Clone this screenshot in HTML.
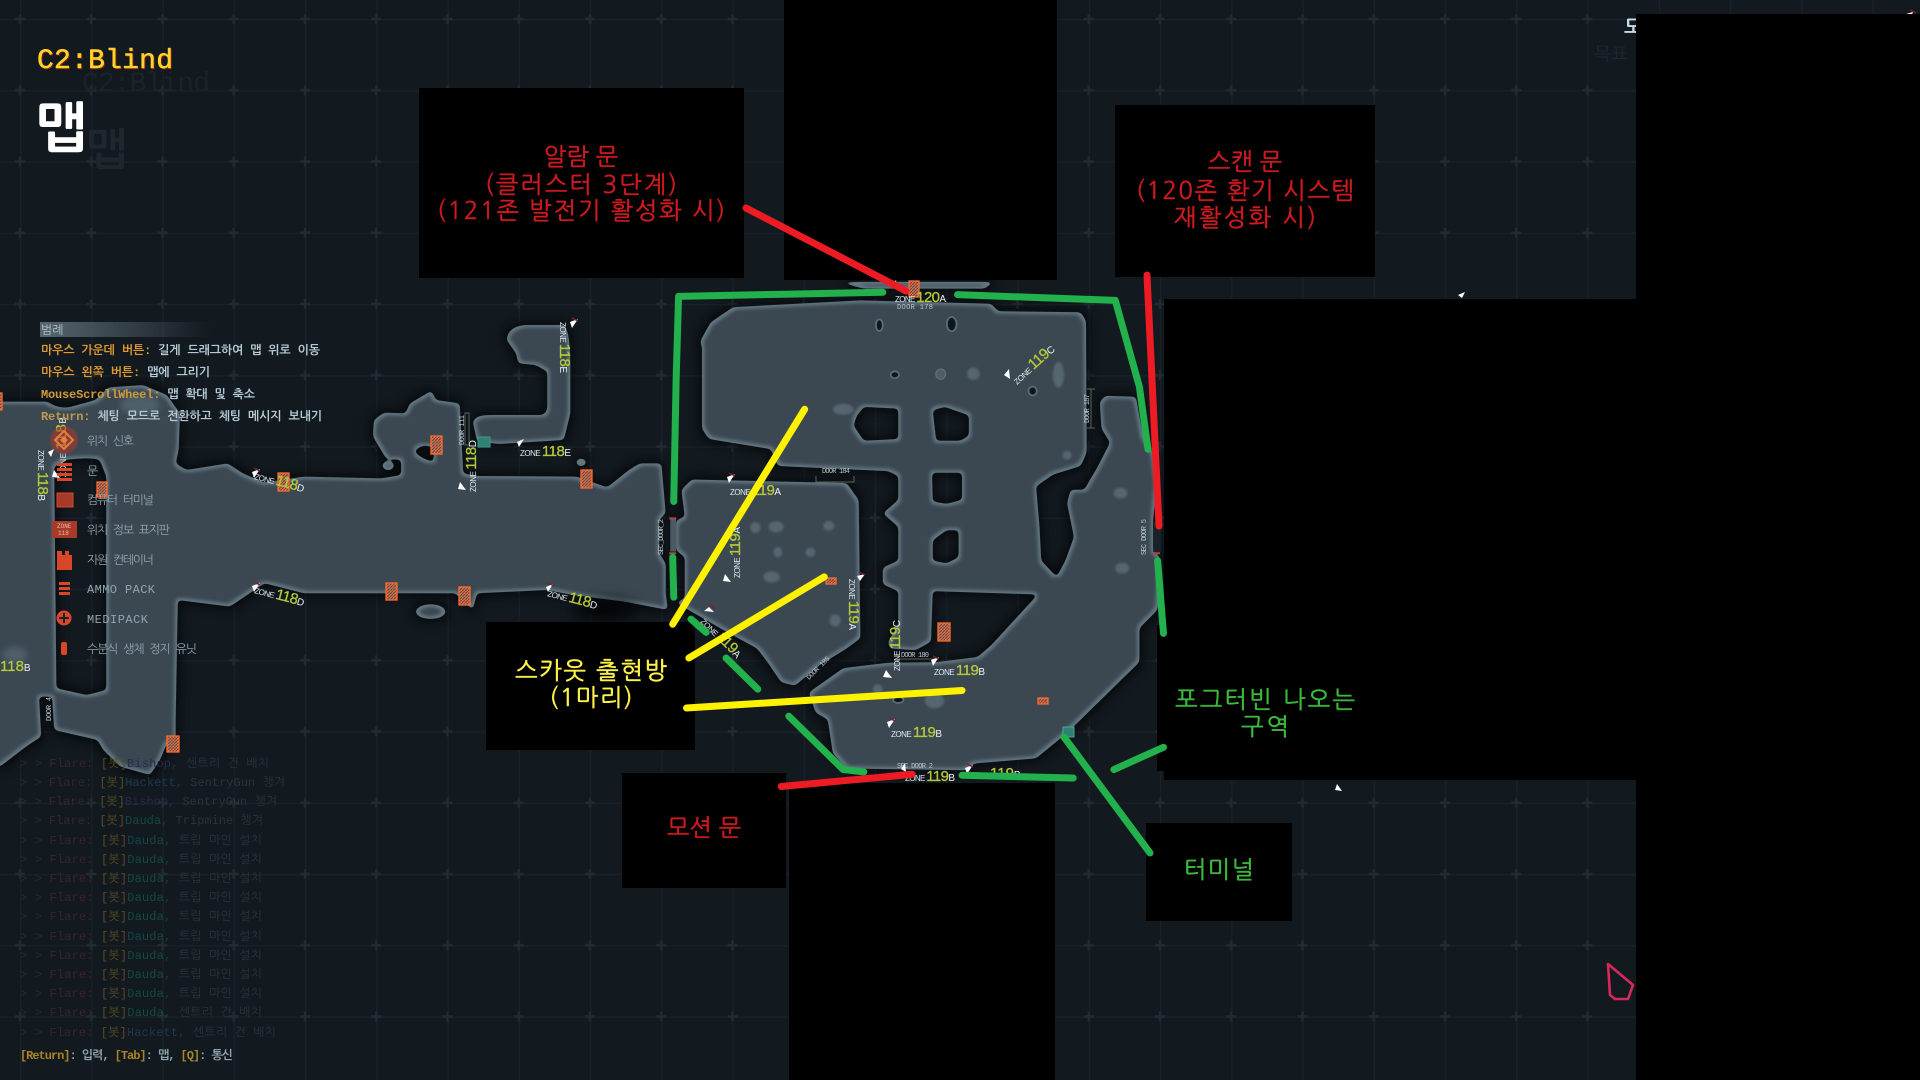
<!DOCTYPE html>
<html lang="ko"><head><meta charset="utf-8"><title>C2:Blind 맵</title>
<style>
html,body{margin:0;padding:0;background:#12191f;width:1920px;height:1080px;overflow:hidden}
svg{display:block;position:absolute;left:0;top:0}
text{white-space:pre}
.m{font-family:"Liberation Mono","Noto Sans CJK KR",monospace}
.k{font-family:"NanumGothic","Liberation Sans","Noto Sans CJK KR",sans-serif}
.leg{font-family:"Liberation Mono","NanumGothic",monospace;font-size:12px;font-weight:700}
.icn{font-family:"Liberation Mono","NanumGothic",monospace;font-size:12px;fill:#8fa5b1}
.chat{font-family:"Liberation Mono","NanumGothic",monospace;font-size:12px}
.z{font-family:"Liberation Sans",sans-serif;font-size:8px;fill:#dfe8ec}
.n{font-size:15px;fill:#b3c93a;stroke:#b3c93a;stroke-width:.3}
.l{font-size:10px;fill:#eef3f5}
.d{font-family:"Liberation Mono",monospace;font-size:7px;fill:#b9c6cd}
.bx{font-family:"NanumGothic","Noto Sans CJK KR",sans-serif;font-size:24px;text-anchor:middle;font-weight:400;stroke-width:.45}
.ln{fill:none;stroke-linecap:round;stroke-linejoin:round;stroke-width:7;vector-effect:non-scaling-stroke}
</style></head><body>
<svg width="1920" height="1080" viewBox="0 0 1920 1080" xmlns="http://www.w3.org/2000/svg">
<defs>
<pattern id="grid" x="20" y="19" width="71.25" height="71.25" patternUnits="userSpaceOnUse">
<path d="M0 0V71.25M0 0H71.25" stroke="#1a2229" stroke-width="2.4" fill="none"/>
<path d="M-5 0H5M0 -5V5M66.25 0H76M71.25 -5V5M-5 71.25H5M0 66.25V76M66.25 71.25H76M71.25 66.25V76" stroke="#222b32" stroke-width="2.4" fill="none"/>
</pattern>
<pattern id="hat" width="3" height="3" patternUnits="userSpaceOnUse"><rect width="3" height="3" fill="#d9734f"/><path d="M0 3L3 0" stroke="#6b4a42" stroke-width="1.2"/></pattern>
<linearGradient id="hd" x1="0" x2="1"><stop offset="0" stop-color="#56666f"/><stop offset="1" stop-color="#56666f" stop-opacity="0"/></linearGradient>
<filter id="goo" filterUnits="userSpaceOnUse" x="-30" y="0" width="1980" height="1080" color-interpolation-filters="sRGB">
<feGaussianBlur in="SourceAlpha" stdDeviation="2" result="b"/>
<feComponentTransfer in="b" result="shape"><feFuncA type="linear" slope="10" intercept="-4.5"/></feComponentTransfer>
<feMorphology in="shape" operator="dilate" radius="3"/>
<feGaussianBlur stdDeviation="5" result="sh"/>
<feFlood flood-color="#000" flood-opacity=".6"/>
<feComposite in2="sh" operator="in" result="shadow"/>
<feFlood flood-color="#627681"/>
<feComposite in2="shape" operator="in" result="rim"/>
<feMorphology in="shape" operator="erode" radius="2.5"/>
<feGaussianBlur stdDeviation="1.6" result="inner"/>
<feFlood flood-color="#3b4852"/>
<feComposite in2="inner" operator="in" result="fill"/>
<feMerge><feMergeNode in="shadow"/><feMergeNode in="rim"/><feMergeNode in="fill"/></feMerge>
</filter>
<filter id="b3" x="-50%" y="-50%" width="200%" height="200%"><feGaussianBlur stdDeviation="3"/></filter>
<filter id="b1" x="-50%" y="-50%" width="200%" height="200%"><feGaussianBlur stdDeviation=".8"/></filter>
<filter id="b9" x="-50%" y="-100%" width="200%" height="300%"><feGaussianBlur stdDeviation="7"/></filter>
</defs>

<rect width="1920" height="1080" fill="#12191f"/>
<rect width="1920" height="1080" fill="url(#grid)"/>

<!-- ghost heading -->
<text x="82" y="91" class="m" font-size="28" fill="#1b2329" textLength="128">C2:Blind</text>
<text x="86" y="165" class="k" font-size="44" font-weight="700" fill="#1e272e">맵</text>
<text x="1594" y="60" class="k" font-size="18" fill="#20282f">목표</text>

<!-- map -->
<g filter="url(#goo)">
<g transform="translate(0 300) scale(.4337 .3333)" fill="#fff">
<path fill-rule="evenodd" d="M-20,305 L110,305 Q135,330 165,320 L220,300 L250,262 L330,255 L385,285 L415,340 L412,450 L405,490 L430,510 L525,490 L560,520 L610,548 L700,530 L880,535 L925,525 L925,480 L890,475 L860,410 L862,360 L885,338 L935,340 L945,310 L995,272 L1005,300 L1060,310 L1068,520 L1100,528 L1330,530 L1400,562 L1450,510 L1475,490 L1525,490 L1535,640 L1520,660 L1520,760 L1535,790 L1535,880 L1540,930 L1440,905 L1320,885 L1260,870 L1100,880 L1090,930 L1050,880 L700,880 L610,850 L530,920 L410,900 L405,1260 L405,1320 L385,1330 L369,1380 L346,1425 L277,1400 L238,1350 L225,1320 L125,1290 L120,1190 L90,1190 L95,1310 L60,1340 L0,1400 L-20,1400 Z
M125,500 L150,480 Q210,470 230,480 L245,530 L245,1170 L200,1185 L130,1165 Z
M955,455 Q975,425 1000,445 L1000,485 Q975,480 955,455 Z
M1090,365 Q1095,345 1130,345 L1250,345 Q1262,340 1262,320 L1262,215 L1235,195 L1195,190 L1190,160 L1168,120 Q1170,80 1210,75 L1300,75 Q1315,90 1315,200 L1315,340 L1300,420 L1150,432 L1100,425 Z"/>
<ellipse cx="895" cy="497" rx="14" ry="14"/><ellipse cx="1340" cy="487" rx="12" ry="12"/><ellipse cx="993" cy="935" rx="35" ry="22"/>
</g>
<g transform="translate(640 270) scale(.3444 .338)" fill="#fff">
<path fill-rule="evenodd" d="M175,210 L205,155 L270,110 L640,90 L1020,100 L1040,122 L1280,125 L1295,150 L1297,540 L1280,580 L1200,605 L1150,640 L1160,760 L1165,860 L1210,908 L1235,860 L1260,790 L1240,690 L1250,650 L1290,650 L1330,580 L1365,510 L1340,470 L1335,390 L1350,372 L1440,375 L1460,490 L1490,540 L1500,630 L1490,740 L1490,830 L1510,850 L1503,1005 L1450,1060 L1450,1160 L1240,1370 L1150,1445 L970,1460 L950,1480 L600,1475 L560,1430 L545,1330 L510,1310 L490,1250 L590,1178 L720,1162 L860,1160 L980,1145 L1020,1110 L1155,960 L850,950 L845,1100 L800,1125 L725,1120 L720,1100 L750,1050 L750,950 L705,930 L705,880 L750,860 L750,760 L705,720 L750,680 L750,610 L720,595 L400,580 L380,530 L200,500 L180,470 L180,230 Z
M630,430 L650,405 L750,410 L750,500 L650,505 L620,460 Z
M850,415 L885,405 L955,430 L955,490 L930,505 L860,505 Z
M848,600 L935,600 L935,680 L890,692 L850,685 Z
M850,800 L890,770 L925,770 L925,850 L890,868 L850,860 Z
M120,650 L150,620 L600,630 L635,680 L640,1090 L600,1120 L520,1170 L450,1230 L410,1220 L370,1160 L340,1120 L250,1070 L140,1005 L105,985 L130,970 L130,850 L105,830 L105,740 L130,730 Z
M570,35 L1030,35 L1000,55 L650,55 Z"/>
</g>
</g>
<!-- small pits -->
<g transform="translate(640 270) scale(.3444 .338)">
<g fill="#11171c" stroke="#5b6e79" stroke-width="5" filter="url(#b1)">
<ellipse cx="695" cy="163" rx="10" ry="17"/><ellipse cx="905" cy="160" rx="14" ry="21"/><ellipse cx="740" cy="310" rx="12" ry="10"/><ellipse cx="1140" cy="358" rx="12" ry="13"/><ellipse cx="750" cy="1272" rx="15" ry="9"/>
</g>
<ellipse cx="873" cy="308" rx="14" ry="15" fill="#4d5c66" stroke="#5b6e79" stroke-width="4"/>
<rect x="88" y="738" width="17" height="95" fill="#4c5a63"/>
<path d="M85 735H105M85 838H105" stroke="#b0434e" stroke-width="6" fill="none"/>
<rect x="1490" y="745" width="22" height="90" fill="#1a2228"/>
<path d="M1490 838H1510" stroke="#b0434e" stroke-width="6" fill="none"/>
<g fill="#556670" filter="url(#b3)">
<ellipse cx="590" cy="412" rx="30" ry="16"/><ellipse cx="968" cy="307" rx="18" ry="18"/><ellipse cx="1215" cy="310" rx="16" ry="38"/>
<ellipse cx="1240" cy="548" rx="13" ry="13"/><ellipse cx="1395" cy="660" rx="20" ry="16"/><ellipse cx="1400" cy="882" rx="20" ry="16"/>
<ellipse cx="335" cy="762" rx="15" ry="16"/><ellipse cx="395" cy="760" rx="22" ry="16"/><ellipse cx="548" cy="757" rx="16" ry="14"/>
<ellipse cx="400" cy="835" rx="12" ry="16"/><ellipse cx="495" cy="835" rx="14" ry="14"/><ellipse cx="382" cy="908" rx="24" ry="16"/>
<ellipse cx="567" cy="1037" rx="16" ry="18"/><ellipse cx="690" cy="1240" rx="14" ry="14"/><ellipse cx="855" cy="1275" rx="28" ry="22"/>
</g>
</g>
<ellipse cx="15" cy="655" rx="12" ry="8" fill="#4e5e68" filter="url(#b3)"/>
<ellipse cx="140" cy="405" rx="20" ry="10" fill="#4e5e68" filter="url(#b3)"/>
<ellipse cx="605" cy="610" rx="32" ry="10" fill="#000" opacity=".8" filter="url(#b9)"/>

<!-- orange doors -->
<g stroke="#ff6a2a" stroke-width="1.3" fill="url(#hat)">
<rect x="431" y="436" width="11" height="18"/>
<rect x="278" y="473" width="11" height="18"/>
<rect x="97" y="482" width="10" height="15"/>
<rect x="581" y="470" width="11" height="18"/>
<rect x="386" y="583" width="11" height="17"/>
<rect x="459" y="587" width="11" height="18"/>
<rect x="-3" y="393" width="5" height="17"/>
<rect x="167" y="736" width="12" height="16"/>
<rect x="938" y="623" width="12" height="18"/>
<rect x="909" y="281" width="10" height="16"/>
<rect x="826" y="578" width="10" height="6"/>
<rect x="1038" y="698" width="10" height="6"/>
</g>

<!-- terminals -->
<rect x="478" y="437" width="12" height="10" fill="#2f8075" stroke="#3c9a8c"/>
<rect x="1063" y="727" width="11" height="10" fill="#2f8075" stroke="#4da497"/>

<!-- door labels -->
<g class="d">
<text transform="translate(464 445) rotate(-90)" textLength="30">DOOR_111</text>
<text x="822" y="473" textLength="28" fill="#b9c6cd">DOOR 184</text>
<text x="901" y="657" textLength="28">DOOR 180</text>
<text transform="translate(1089 423) rotate(-90)" textLength="29">DOOR 187</text>
<text transform="translate(809 680) rotate(-45)" textLength="30">DOOR 185</text>
<text transform="translate(663 555) rotate(-90)" textLength="36">SEC_DOOR_2</text>
<text transform="translate(1146 555) rotate(-90)" textLength="36">SEC DOOR 5</text>
<text x="897" y="768" textLength="36">SEC DOOR 2</text>
<text x="897" y="309" textLength="36">DOOR 178</text>
<text transform="translate(51 721) rotate(-90)" textLength="24">DOOR 4</text>
</g>
<g fill="none" stroke="#59655a" stroke-width="1"><path d="M816 476V482H854V476"/><path d="M898 659H934V663H898Z"/><path d="M1091 389V428M1087 389H1095M1087 428H1095"/><path d="M465 413H469V445H465Z"/></g>

<!-- zone labels -->
<text transform="translate(560 322) rotate(90)" class="z" textLength="51">ZONE <tspan class="n">118</tspan><tspan class="l">E</tspan></text>
<text x="520" y="456" class="z" textLength="51">ZONE <tspan class="n">118</tspan><tspan class="l">E</tspan></text>
<text transform="translate(254 479) rotate(15)" class="z" textLength="51">ZONE <tspan class="n">118</tspan><tspan class="l">D</tspan></text>
<text transform="translate(476 492) rotate(-90)" class="z" textLength="52">ZONE <tspan class="n">118</tspan><tspan class="l">D</tspan></text>
<text transform="translate(254 593) rotate(15)" class="z" textLength="51">ZONE <tspan class="n">118</tspan><tspan class="l">D</tspan></text>
<text transform="translate(547 596) rotate(15)" class="z" textLength="51">ZONE <tspan class="n">118</tspan><tspan class="l">D</tspan></text>
<text transform="translate(38 450) rotate(90)" class="z" textLength="51">ZONE <tspan class="n">118</tspan><tspan class="l">B</tspan></text>
<text transform="translate(66 477) rotate(-90)" class="z" textLength="60">ZONE <tspan class="n">118</tspan><tspan class="l">B</tspan></text>
<text x="0" y="671" class="z"><tspan class="n">118</tspan><tspan class="l">B</tspan></text>
<text x="730" y="495" class="z" textLength="51">ZONE <tspan class="n">119</tspan><tspan class="l">A</tspan></text>
<text transform="translate(740 578) rotate(-90)" class="z" textLength="51">ZONE <tspan class="n">119</tspan><tspan class="l">A</tspan></text>
<text transform="translate(849 579) rotate(90)" class="z" textLength="51">ZONE <tspan class="n">119</tspan><tspan class="l">A</tspan></text>
<text transform="translate(700 622) rotate(45)" class="z" textLength="52">ZONE <tspan class="n">119</tspan><tspan class="l">A</tspan></text>
<text transform="translate(1017 385) rotate(-42)" class="z" textLength="52">ZONE <tspan class="n">119</tspan><tspan class="l">C</tspan></text>
<text transform="translate(900 671) rotate(-90)" class="z" textLength="51">ZONE <tspan class="n">119</tspan><tspan class="l">C</tspan></text>
<text x="934" y="675" class="z" textLength="51">ZONE <tspan class="n">119</tspan><tspan class="l">B</tspan></text>
<text x="891" y="737" class="z" textLength="51">ZONE <tspan class="n">119</tspan><tspan class="l">B</tspan></text>
<text x="905" y="781" class="z" textLength="50">ZONE <tspan class="n">119</tspan><tspan class="l">B</tspan></text>
<text x="990" y="778" class="z"><tspan class="n">119</tspan><tspan class="l">B</tspan></text>
<text x="895" y="302" class="z" textLength="51">ZONE <tspan class="n">120</tspan><tspan class="l">A</tspan></text>

<!-- flags -->
<g fill="#fff">
<path d="M570 322l8 -3l-6 9z"/>
<path d="M517 442l7 -3l-5 8z"/><path d="M252 472l8 -3l-6 9z"/><path d="M458 489l2 -7l6 8z"/><path d="M252 586l8 -3l-6 9z"/><path d="M546 587l7 -3l-5 8z"/><path d="M48 452l6 -3l-3 8z"/><path d="M52 477l2 -7l6 8z"/>
<path d="M727 477l8 -3l-6 9z"/><path d="M723 581l2 -7l6 8z"/><path d="M704 611l5 -4l5 5z"/><path d="M857 576l8 -2l-5 7z"/><path d="M883 677l3 -7l6 8z"/><path d="M931 660l8 -3l-6 9z"/><path d="M1004 375l5 -6l1 10z"/><path d="M892 286l4 -6l1 9z"/><path d="M887 722l8 -3l-6 9z"/><path d="M901 769l4 -6l1 9z"/><path d="M965 768l8 -3l-6 9z"/><path d="M1906 14l7 -2l-2 5z"/><path d="M1458 295l7 -3l-3 6z"/><path d="M1335 790l2 -6l5 7z"/>
</g>
<g stroke="#7a2233" stroke-width="1.5" fill="none"><path d="M572 318l6 3"/><path d="M254 468l6 3"/><path d="M254 582l6 3"/><path d="M548 583l6 3"/><path d="M729 473l6 3"/><path d="M709 604l6 5"/><path d="M859 572l6 3"/><path d="M933 656l6 3"/><path d="M889 718l6 3"/><path d="M967 764l6 3"/><path d="M1910 10l6 3"/></g>

<!-- cursor -->
<path d="M1608 964L1633 985L1628 999L1615 999L1610 995Z" fill="none" stroke="#d8285c" stroke-width="2.6" stroke-linejoin="round"/>

<!-- right ghost/heading -->
<text x="1624" y="34" class="k" font-size="20" font-weight="700" fill="#c9dbe6">도</text>

<!-- heading -->
<text x="38" y="69" class="m" font-size="28" fill="#7a1c10" stroke="#7a1c10" stroke-width=".5" textLength="136">C2:Blind</text>
<text x="37" y="68" class="m" font-size="28" fill="#ffd42a" stroke="#ffd42a" stroke-width=".5" textLength="136">C2:Blind</text>
<text x="36" y="147" class="k" font-size="54" font-weight="700" fill="#fff" stroke="#fff" stroke-width=".6">맵</text>

<!-- legend -->
<rect x="40" y="322" width="172" height="15" fill="url(#hd)"/>
<text x="41" y="334" class="k" font-size="12" fill="#b5c6cf">범례</text>
<text x="41" y="354" class="leg" textLength="279"><tspan fill="#e09a30">마우스 가운데 버튼:</tspan><tspan fill="#b6cbd6"> 길게 드래그하여 맵 위로 이동</tspan></text>
<text x="41" y="376" class="leg" textLength="169"><tspan fill="#e09a30">마우스 왼쪽 버튼:</tspan><tspan fill="#b6cbd6"> 맵에 그리기</tspan></text>
<text x="41" y="398" class="leg" textLength="214"><tspan fill="#d09a3a">MouseScrollWheel:</tspan><tspan fill="#b6cbd6"> 맵 확대 및 축소</tspan></text>
<text x="41" y="420" class="leg" textLength="281"><tspan fill="#c09a50">Return:</tspan><tspan fill="#b6cbd6"> 체팅 모드로 전환하고 체팅 메시지 보내기</tspan></text>

<!-- legend icons -->
<circle cx="64" cy="440" r="14" fill="#b0362a" opacity=".55"/>
<path d="M64 431l9 9l-9 9l-9 -9z" fill="none" stroke="#f07a3a" stroke-width="2"/><path d="M64 436l4 4l-4 4l-4 -4z" fill="#f07a3a"/>
<g fill="#d8472a">
<path d="M57 463h15v3h-15zM57 468h15v3h-15zM57 473h15v3h-15zM57 478h15v3h-15z"/>
<rect x="57" y="493" width="16" height="14" fill="#a83a2a" stroke="#d8472a"/>
<rect x="52" y="521" width="25" height="17" fill="#a83a2a"/>
<path d="M57 551h5v4h3v-4h4v4h3v15h-15z"/>
<path d="M59 582h11v3h-11zM59 587h11v3h-11zM59 592h11v3h-11z"/>
<circle cx="64" cy="618" r="7.5"/>
<rect x="61" y="642" width="6" height="13" rx="2"/>
</g>
<path d="M64 613v10M59 618h10" stroke="#1b2126" stroke-width="2"/>
<text x="57" y="528" font-family="Liberation Mono,monospace" font-size="6" fill="#e8b8a0">ZONE</text>
<text x="58" y="535" font-family="Liberation Mono,monospace" font-size="6" fill="#e8b8a0">118</text>

<text x="87" y="445" class="icn" textLength="47">위치 신호</text>
<text x="87" y="475" class="icn">문</text>
<text x="87" y="504" class="icn" textLength="67">컴퓨터 터미널</text>
<text x="87" y="534" class="icn" textLength="83">위치 정보 표지판</text>
<text x="87" y="564" class="icn" textLength="67">자원 컨테이너</text>
<text x="87" y="593" class="icn" textLength="68">AMMO PACK</text>
<text x="87" y="623" class="icn" textLength="61">MEDIPACK</text>
<text x="87" y="653" class="icn" textLength="110">수분식 생체 정지 유닛</text>

<!-- chat -->
<g class="chat">
<text x="20" y="767" textLength="249"><tspan fill="#3a2331">&gt; &gt; Flare: </tspan><tspan fill="#5b4a22">[봇]</tspan><tspan fill="#2a2a4e">Bishop</tspan><tspan fill="#27353e">, 센트리 건 배치</tspan></text>
<text x="20" y="786" textLength="265"><tspan fill="#3a2331">&gt; &gt; Flare: </tspan><tspan fill="#5b4a22">[봇]</tspan><tspan fill="#1d3a52">Hackett</tspan><tspan fill="#27353e">, SentryGun 챙겨</tspan></text>
<text x="20" y="805" textLength="257"><tspan fill="#3a2331">&gt; &gt; Flare: </tspan><tspan fill="#5b4a22">[봇]</tspan><tspan fill="#2a2a4e">Bishop</tspan><tspan fill="#27353e">, SentryGun 챙겨</tspan></text>
<text x="20" y="824" textLength="243"><tspan fill="#3a2331">&gt; &gt; Flare: </tspan><tspan fill="#5b4a22">[봇]</tspan><tspan fill="#154a42">Dauda</tspan><tspan fill="#27353e">, Tripmine 챙겨</tspan></text>
<text x="20" y="844" textLength="242"><tspan fill="#3a2331">&gt; &gt; Flare: </tspan><tspan fill="#5b4a22">[봇]</tspan><tspan fill="#154a42">Dauda</tspan><tspan fill="#27353e">, 트립 마인 설치</tspan></text>
<text x="20" y="863" textLength="242"><tspan fill="#3a2331">&gt; &gt; Flare: </tspan><tspan fill="#5b4a22">[봇]</tspan><tspan fill="#154a42">Dauda</tspan><tspan fill="#27353e">, 트립 마인 설치</tspan></text>
<text x="20" y="882" textLength="242"><tspan fill="#3a2331">&gt; &gt; Flare: </tspan><tspan fill="#5b4a22">[봇]</tspan><tspan fill="#154a42">Dauda</tspan><tspan fill="#27353e">, 트립 마인 설치</tspan></text>
<text x="20" y="901" textLength="242"><tspan fill="#3a2331">&gt; &gt; Flare: </tspan><tspan fill="#5b4a22">[봇]</tspan><tspan fill="#154a42">Dauda</tspan><tspan fill="#27353e">, 트립 마인 설치</tspan></text>
<text x="20" y="920" textLength="242"><tspan fill="#3a2331">&gt; &gt; Flare: </tspan><tspan fill="#5b4a22">[봇]</tspan><tspan fill="#154a42">Dauda</tspan><tspan fill="#27353e">, 트립 마인 설치</tspan></text>
<text x="20" y="940" textLength="242"><tspan fill="#3a2331">&gt; &gt; Flare: </tspan><tspan fill="#5b4a22">[봇]</tspan><tspan fill="#154a42">Dauda</tspan><tspan fill="#27353e">, 트립 마인 설치</tspan></text>
<text x="20" y="959" textLength="242"><tspan fill="#3a2331">&gt; &gt; Flare: </tspan><tspan fill="#5b4a22">[봇]</tspan><tspan fill="#154a42">Dauda</tspan><tspan fill="#27353e">, 트립 마인 설치</tspan></text>
<text x="20" y="978" textLength="242"><tspan fill="#3a2331">&gt; &gt; Flare: </tspan><tspan fill="#5b4a22">[봇]</tspan><tspan fill="#154a42">Dauda</tspan><tspan fill="#27353e">, 트립 마인 설치</tspan></text>
<text x="20" y="997" textLength="242"><tspan fill="#3a2331">&gt; &gt; Flare: </tspan><tspan fill="#5b4a22">[봇]</tspan><tspan fill="#154a42">Dauda</tspan><tspan fill="#27353e">, 트립 마인 설치</tspan></text>
<text x="20" y="1016" textLength="242"><tspan fill="#3a2331">&gt; &gt; Flare: </tspan><tspan fill="#5b4a22">[봇]</tspan><tspan fill="#154a42">Dauda</tspan><tspan fill="#27353e">, 센트리 건 배치</tspan></text>
<text x="20" y="1036" textLength="256"><tspan fill="#3a2331">&gt; &gt; Flare: </tspan><tspan fill="#5b4a22">[봇]</tspan><tspan fill="#1d3a52">Hackett</tspan><tspan fill="#27353e">, 센트리 건 배치</tspan></text>
<text x="20" y="1059" textLength="213" font-weight="700"><tspan fill="#a98428">[Return]</tspan><tspan fill="#8fa6b3">: 입력, </tspan><tspan fill="#a98428">[Tab]</tspan><tspan fill="#8fa6b3">: 맵, </tspan><tspan fill="#a98428">[Q]</tspan><tspan fill="#8fa6b3">: 통신</tspan></text>
</g>

<!-- black boxes -->
<g fill="#000">
<rect x="419" y="88" width="325" height="190"/>
<rect x="784" y="0" width="273" height="280"/>
<rect x="1115" y="105" width="260" height="172"/>
<rect x="1636" y="14" width="284" height="1066"/>
<rect x="1164" y="299" width="472" height="481"/>
<rect x="1157" y="625" width="10" height="146"/>
<rect x="486" y="622" width="209" height="128"/>
<rect x="622" y="773" width="164" height="115"/>
<rect x="789" y="783" width="266" height="297"/>
<rect x="1146" y="823" width="146" height="98"/>
</g>

<!-- paint strokes -->
<g transform="translate(640 270) scale(.3444 .338)">
<g stroke="#22b14c">
<path class="ln" d="M98,685 L105,320 L112,78 L400,72 L705,66"/>
<path class="ln" d="M95,850 L98,968"/>
<path class="ln" d="M148,1033 L192,1072"/>
<path class="ln" d="M250,1148 L342,1240"/>
<path class="ln" d="M432,1320 L590,1478 L650,1485"/>
<path class="ln" d="M935,1495 L1258,1503"/>
<path class="ln" d="M922,73 L1380,90 L1450,345 L1475,530"/>
<path class="ln" d="M1503,860 L1520,1075"/>
<path class="ln" d="M1376,1478 L1520,1412"/>
</g>
<path class="ln" stroke="#ed1c24" d="M410,1528 L790,1492"/>
<g stroke="#fff200">
<path class="ln" d="M478,412 L95,1048"/>
<path class="ln" d="M535,908 L142,1148"/>
<path class="ln" d="M135,1296 L935,1244"/>
</g>
</g>
<path class="ln" stroke="#22b14c" d="M1064,737 L1150,853"/>
<path class="ln" stroke="#ed1c24" d="M746,208 L906,291"/>
<path class="ln" stroke="#ed1c24" d="M1147,275 L1159,526"/>

<!-- box labels -->
<g class="bx" fill="#cc1a20" stroke="#cc1a20">
<text x="581" y="165">알람 문</text>
<text x="581" y="193" textLength="192">(클러스터 3단계)</text>
<text x="581" y="219" textLength="288">(121존 발전기 활성화 시)</text>
<text x="1245" y="170">스캔 문</text>
<text x="1245" y="199" textLength="218">(120존 환기 시스템</text>
<text x="1245" y="226" textLength="142">재활성화 시)</text>
<text x="704" y="836">모션 문</text>
</g>
<g class="bx" fill="#fff34a" stroke="#fff34a">
<text x="591" y="679" textLength="152">스카웃 출현방</text>
<text x="591" y="706" textLength="83">(1마리)</text>
</g>
<g class="bx" fill="#3cb83c" stroke="#3cb83c">
<text x="1265" y="708" textLength="180">포그터빈 나오는</text>
<text x="1265" y="735" textLength="48">구역</text>
<text x="1219" y="878" textLength="70">터미널</text>
</g>
</svg>
</body></html>
